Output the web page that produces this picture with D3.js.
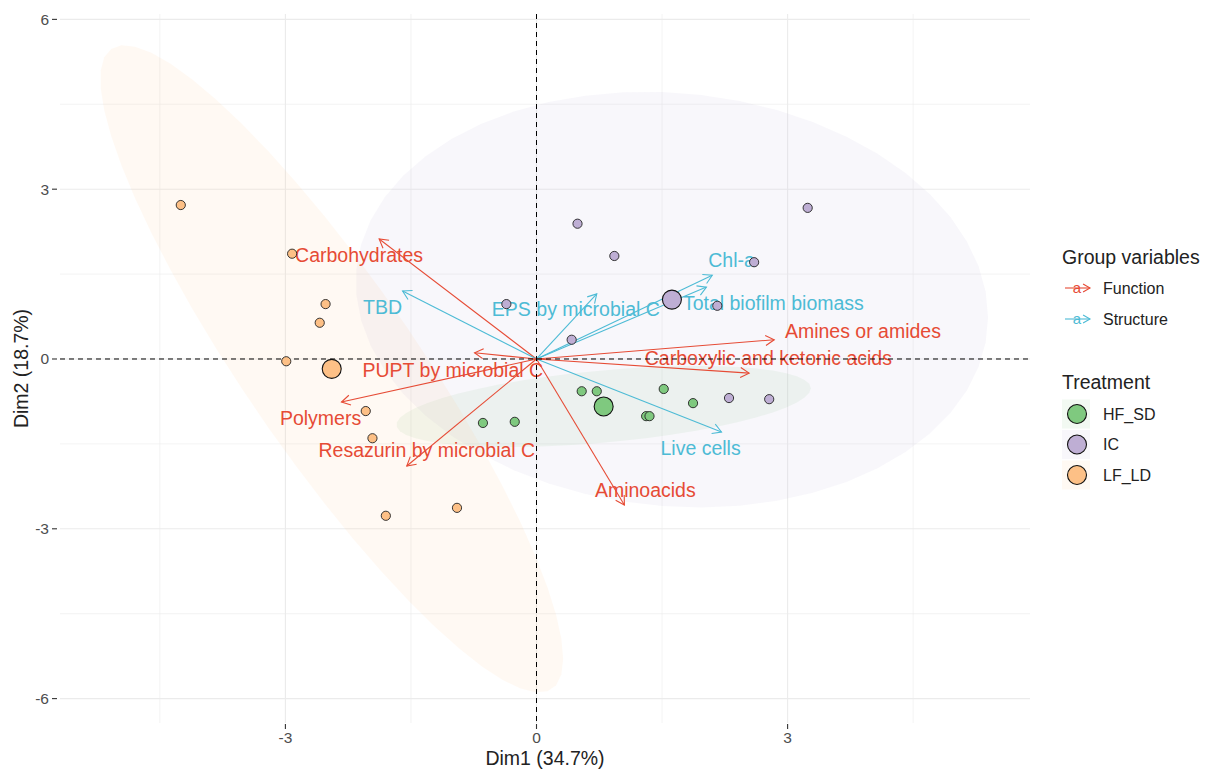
<!DOCTYPE html>
<html><head><meta charset="utf-8">
<script src="https://cdn.jsdelivr.net/npm/d3@7"></script>
<style>
body{margin:0;background:#fff}
svg{display:block}
text{font-family:"Liberation Sans",Arial,Helvetica,sans-serif}
</style>
</head><body>
<svg id="chart" width="1207" height="769"></svg>
<script>
// ---------------- DATA ----------------
const groups = ["HF_SD", "IC", "LF_LD"];
const groupColors = ["#7FC97F", "#BEAED4", "#FDC086"];

// individuals (Dim1, Dim2)
const hfsdX = [-0.64, -0.26, 0.54, 0.72, 1.52, 1.87, 1.31, 1.35, 0.81];
const hfsdY = [-1.13, -1.11, -0.57, -0.57, -0.53, -0.78, -1.01, -1.01, -0.84];
const icX   = [0.49, 0.93, 3.24, 2.60, 2.16, -0.36, 0.42, 2.30, 2.78];
const icY   = [2.39, 1.82, 2.67, 1.71, 0.94, 0.97, 0.34, -0.69, -0.71];
const lfldX = [-4.25, -2.92, -2.52, -2.59, -2.99, -2.04, -1.96, -1.80, -0.95];
const lfldY = [2.72, 1.86, 0.97, 0.64, -0.04, -0.92, -1.40, -2.77, -2.63];

// variables
const varGroups = ["Function", "Structure"];
const varColors = ["#E64B35", "#4DBBD5"];
const varNames = ["Carbohydrates", "TBD", "EPS by microbial C", "PUPT by microbial C", "Polymers",
  "Resazurin by microbial C", "Chl-a", "Total biofilm biomass", "Amines or amides",
  "Carboxylic and ketonic acids", "Live cells", "Aminoacids"];
const varGroupOf = ["Function", "Structure", "Structure", "Function", "Function",
  "Function", "Structure", "Structure", "Function", "Function", "Structure", "Function"];
const varX = [-1.88, -1.60, 0.72, -0.74, -2.33, -1.55, 2.10, 2.03, 2.84, 2.54, 2.21, 1.05];
const varY = [2.12, 1.20, 1.15, 0.11, -0.76, -1.89, 1.48, 1.27, 0.34, -0.25, -1.29, -2.58];
const labelX = [-2.12, -1.84, 0.47, -1.00, -2.58, -1.31, 2.33, 2.83, 3.90, 2.77, 1.96, 1.30];
const labelY = [1.84, 0.92, 0.88, -0.19, -1.04, -1.61, 1.75, 0.99, 0.49, 0.02, -1.57, -2.31];

const xTicks = [-3, 0, 3];
const yTicks = [-6, -3, 0, 3, 6];
const xMinor = [-4.5, -1.5, 1.5, 4.5];
const yMinor = [-4.5, -1.5, 1.5, 4.5];
const xTitle = "Dim1 (34.7%)";
const yTitle = "Dim2 (18.7%)";
const ellipseLevel = 0.95;

// ---------------- LAYOUT ----------------
const panel = {left: 60, right: 1030, top: 14, bottom: 723};
const svg = d3.select("#chart");
const x = d3.scaleLinear().domain([-5.693, 5.896]).range([panel.left, panel.right]);
const y = d3.scaleLinear().domain([-6.431, 6.095]).range([panel.bottom, panel.top]);

const indData = [
  {g: 0, xs: hfsdX, ys: hfsdY},
  {g: 1, xs: icX, ys: icY},
  {g: 2, xs: lfldX, ys: lfldY}
];

// grid
const grid = svg.append("g");
grid.selectAll(".gxm").data(xMinor).join("line")
  .attr("x1", d => x(d)).attr("x2", d => x(d)).attr("y1", panel.top).attr("y2", panel.bottom)
  .attr("stroke", "#EBEBEB").attr("stroke-width", 0.6);
grid.selectAll(".gym").data(yMinor).join("line")
  .attr("y1", d => y(d)).attr("y2", d => y(d)).attr("x1", panel.left).attr("x2", panel.right)
  .attr("stroke", "#EBEBEB").attr("stroke-width", 0.6);
grid.selectAll(".gx").data(xTicks).join("line")
  .attr("x1", d => x(d)).attr("x2", d => x(d)).attr("y1", panel.top).attr("y2", panel.bottom)
  .attr("stroke", "#EBEBEB").attr("stroke-width", 1.1);
grid.selectAll(".gy").data(yTicks).join("line")
  .attr("y1", d => y(d)).attr("y2", d => y(d)).attr("x1", panel.left).attr("x2", panel.right)
  .attr("stroke", "#EBEBEB").attr("stroke-width", 1.1);

// ellipses (normal data ellipse, like stat_ellipse type="norm")
function ellipsePath(xs, ys) {
  const n = xs.length;
  const mx = d3.mean(xs), my = d3.mean(ys);
  let a = 0, b = 0, c = 0;
  for (let i = 0; i < n; i++) {
    a += (xs[i] - mx) ** 2; b += (xs[i] - mx) * (ys[i] - my); c += (ys[i] - my) ** 2;
  }
  a /= (n - 1); b /= (n - 1); c /= (n - 1);
  const d2 = n - 1;
  const qf = (d2 / 2) * (Math.pow(1 - ellipseLevel, -2 / d2) - 1);
  const r = Math.sqrt(2 * qf);
  const r11 = Math.sqrt(a), r12 = b / Math.sqrt(a), r22 = Math.sqrt(c - b * b / a);
  const pts = d3.range(0, 52).map(i => {
    const t = i / 51 * 2 * Math.PI;
    const u = Math.cos(t), v = Math.sin(t);
    return [x(mx + r * u * r11), y(my + r * (u * r12 + v * r22))];
  });
  return d3.line()(pts) + "Z";
}
svg.append("g").selectAll("path").data(indData).join("path")
  .attr("d", d => ellipsePath(d.xs, d.ys))
  .attr("fill", d => groupColors[d.g]).attr("fill-opacity", 0.1).attr("stroke", "none");

// arrows
function arrowHead(x1, y1, x2, y2, len, ang) {
  const th = Math.atan2(y2 - y1, x2 - x1);
  const p1 = [x2 - len * Math.cos(th - ang), y2 - len * Math.sin(th - ang)];
  const p2 = [x2 - len * Math.cos(th + ang), y2 - len * Math.sin(th + ang)];
  return `M${p1[0]},${p1[1]}L${x2},${y2}L${p2[0]},${p2[1]}`;
}
const vars = varNames.map((nm, i) => ({nm, gi: varGroups.indexOf(varGroupOf[i]), vx: varX[i], vy: varY[i], lx: labelX[i], ly: labelY[i]}));
const ag = svg.append("g");
vars.forEach(v => {
  const col = varColors[v.gi];
  ag.append("line").attr("x1", x(0)).attr("y1", y(0)).attr("x2", x(v.vx)).attr("y2", y(v.vy))
    .attr("stroke", col).attr("stroke-width", 1.1);
  ag.append("path").attr("d", arrowHead(x(0), y(0), x(v.vx), y(v.vy), 10, Math.PI / 6))
    .attr("fill", "none").attr("stroke", col).attr("stroke-width", 1.1);
});
svg.append("g").selectAll("text").data(vars).join("text")
  .attr("x", d => x(d.lx)).attr("y", d => y(d.ly)).attr("dy", "0.35em")
  .attr("text-anchor", "middle").attr("font-size", 19.5)
  .attr("fill", d => varColors[d.gi]).text(d => d.nm);

// dashed reference lines
svg.append("line").attr("x1", panel.left).attr("x2", panel.right).attr("y1", y(0)).attr("y2", y(0))
  .attr("stroke", "#000").attr("stroke-width", 1).attr("stroke-dasharray", "5,4");
svg.append("line").attr("y1", panel.top).attr("y2", panel.bottom).attr("x1", x(0)).attr("x2", x(0))
  .attr("stroke", "#000").attr("stroke-width", 1).attr("stroke-dasharray", "5,4");

// points
const pg = svg.append("g");
indData.forEach(d => {
  const pts = d.xs.map((v, i) => [v, d.ys[i]]);
  pg.selectAll(null).data(pts).join("circle")
    .attr("cx", p => x(p[0])).attr("cy", p => y(p[1])).attr("r", 4.6)
    .attr("fill", groupColors[d.g]).attr("stroke", "#222").attr("stroke-width", 0.9);
});
// centroids
indData.forEach(d => {
  pg.append("circle").attr("cx", x(d3.mean(d.xs))).attr("cy", y(d3.mean(d.ys))).attr("r", 9.5)
    .attr("fill", groupColors[d.g]).attr("stroke", "#111").attr("stroke-width", 1.1);
});

// axes
const axCol = "#4D4D4D";
const axG = svg.append("g");
axG.selectAll(".xt").data(xTicks).join("line")
  .attr("x1", d => x(d)).attr("x2", d => x(d)).attr("y1", panel.bottom + 1).attr("y2", panel.bottom + 6)
  .attr("stroke", "#333").attr("stroke-width", 1.1);
axG.selectAll(".xl").data(xTicks).join("text")
  .attr("x", d => x(d)).attr("y", 738).attr("dy", "0.35em").attr("text-anchor", "middle")
  .attr("font-size", 15.5).attr("fill", axCol).text(d => d);
axG.selectAll(".yt").data(yTicks).join("line")
  .attr("y1", d => y(d)).attr("y2", d => y(d)).attr("x1", 52).attr("x2", 57)
  .attr("stroke", "#333").attr("stroke-width", 1.1);
axG.selectAll(".yl").data(yTicks).join("text")
  .attr("x", 49).attr("y", d => y(d)).attr("dy", "0.35em").attr("text-anchor", "end")
  .attr("font-size", 15.5).attr("fill", axCol).text(d => d);
svg.append("text").attr("x", (panel.left + panel.right) / 2).attr("y", 758).attr("dy", "0.35em")
  .attr("text-anchor", "middle").attr("font-size", 19.5).attr("fill", "#222").text(xTitle);
svg.append("text").attr("transform", `translate(21,${(panel.top + panel.bottom) / 2}) rotate(-90)`)
  .attr("dy", "0.35em").attr("text-anchor", "middle").attr("font-size", 19.5).attr("fill", "#222").text(yTitle);

// legends
const lg = svg.append("g");
lg.append("text").attr("x", 1062).attr("y", 257).attr("dy", "0.35em").attr("font-size", 19.5).attr("fill", "#222").text("Group variables");
varGroups.forEach((g, i) => {
  const yy = 288 + i * 31;
  const col = varColors[i];
  lg.append("line").attr("x1", 1065).attr("x2", 1090).attr("y1", yy).attr("y2", yy).attr("stroke", col).attr("stroke-width", 1.1);
  lg.append("path").attr("d", arrowHead(1065, yy, 1090, yy, 8, Math.PI / 6)).attr("fill", "none").attr("stroke", col).attr("stroke-width", 1.1);
  lg.append("text").attr("x", 1077).attr("y", yy).attr("dy", "0.35em").attr("text-anchor", "middle")
    .attr("font-size", 15).attr("fill", col).text("a");
  lg.append("text").attr("x", 1103).attr("y", yy).attr("dy", "0.35em").attr("font-size", 16).attr("fill", "#222").text(g);
});
lg.append("text").attr("x", 1062).attr("y", 382).attr("dy", "0.35em").attr("font-size", 19.5).attr("fill", "#222").text("Treatment");
groups.forEach((g, i) => {
  const yy = 414 + i * 30.5;
  lg.append("rect").attr("x", 1062).attr("y", yy - 14.5).attr("width", 28).attr("height", 29)
    .attr("fill", groupColors[i]).attr("fill-opacity", 0.1);
  lg.append("circle").attr("cx", 1077).attr("cy", yy).attr("r", 9.5)
    .attr("fill", groupColors[i]).attr("stroke", "#111").attr("stroke-width", 1.1);
  lg.append("text").attr("x", 1103).attr("y", yy).attr("dy", "0.35em").attr("font-size", 16).attr("fill", "#222").text(g);
});
</script>
</body></html>
